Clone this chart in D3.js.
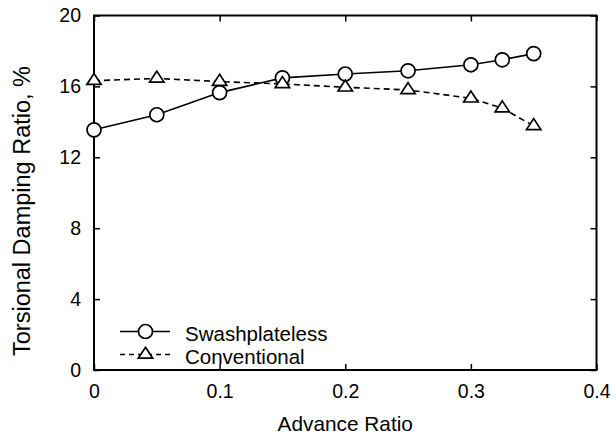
<!DOCTYPE html>
<html>
<head>
<meta charset="utf-8">
<script src="https://cdn.jsdelivr.net/npm/d3@7"></script>
<style>
  html, body { margin: 0; padding: 0; background: #fff; }
  svg { display: block; font-family: "Liberation Sans", Arial, sans-serif; }
</style>
</head>
<body>
<svg id="chart" width="616" height="437"></svg>
<script>
// Advance ratio stations
const advanceRatio = [0, 0.05, 0.1, 0.15, 0.2, 0.25, 0.3, 0.325, 0.35];
// Torsional damping ratio, %
const swashplateless = [13.55, 14.4, 15.65, 16.48, 16.7, 16.88, 17.22, 17.5, 17.85];
const conventional = [16.32, 16.45, 16.27, 16.14, 15.95, 15.8, 15.33, 14.77, 13.77];

const xTicks = [0, 0.1, 0.2, 0.3, 0.4];
const yTicks = [0, 4, 8, 12, 16, 20];
const seriesNames = ["Swashplateless", "Conventional"];

const svg = d3.select("#chart");
const plotL = 94, plotR = 596.5, plotT = 15.5, plotB = 370;

const x = d3.scaleLinear().domain([0, 0.4]).range([plotL, plotR]);
const y = d3.scaleLinear().domain([0, 20]).range([plotB, plotT]);

const tickLen = 6;
const fmtX = d => d === 0 ? "0" : d3.format(".1f")(d);

// Inward ticks on all four sides
const axes = svg.append("g");
axes.append("g").attr("transform", `translate(0,${plotB})`)
  .call(d3.axisBottom(x).tickValues(xTicks).tickSizeInner(-tickLen).tickSizeOuter(0).tickPadding(14).tickFormat(fmtX));
axes.append("g").attr("transform", `translate(0,${plotT})`)
  .call(d3.axisTop(x).tickValues(xTicks).tickSizeInner(-tickLen).tickSizeOuter(0).tickFormat(""));
axes.append("g").attr("transform", `translate(${plotL},0)`)
  .call(d3.axisLeft(y).tickValues(yTicks).tickSizeInner(-tickLen).tickSizeOuter(0).tickPadding(13));
axes.append("g").attr("transform", `translate(${plotR},0)`)
  .call(d3.axisRight(y).tickValues(yTicks).tickSizeInner(-tickLen).tickSizeOuter(0).tickFormat(""));

axes.selectAll(".domain").remove();
axes.selectAll(".tick line").attr("stroke", "#000").attr("stroke-width", 1.5);
axes.selectAll(".tick text").attr("fill", "#000").attr("font-size", 19.5)
  .attr("font-family", "Liberation Sans, Arial, sans-serif");

// Plot frame
svg.append("rect")
  .attr("x", plotL).attr("y", plotT)
  .attr("width", plotR - plotL).attr("height", plotB - plotT)
  .attr("fill", "none").attr("stroke", "#000").attr("stroke-width", 2);

// Axis titles
svg.append("text")
  .attr("x", (plotL + plotR) / 2).attr("y", 431)
  .attr("text-anchor", "middle").attr("font-size", 20.8)
  .text("Advance Ratio");
svg.append("text")
  .attr("transform", "translate(30,211) rotate(-90)")
  .attr("text-anchor", "middle").attr("font-size", 23.5)
  .text("Torsional Damping Ratio, %");

const line = d3.line().x(d => x(d[0])).y(d => y(d[1]));
const swData = advanceRatio.map((a, i) => [a, swashplateless[i]]);
const cvData = advanceRatio.map((a, i) => [a, conventional[i]]);
// Slightly flattened open triangle, centred on its centroid
const triPath = "M0,-7.3L7.2,3.7L-7.2,3.7Z";

const lineW = 1.6, markW = 1.7;

// Swashplateless: solid line with open circles
svg.append("path").datum(swData)
  .attr("d", line).attr("fill", "none").attr("stroke", "#000").attr("stroke-width", lineW);
svg.append("g").selectAll("circle").data(swData).join("circle")
  .attr("cx", d => x(d[0])).attr("cy", d => y(d[1])).attr("r", 7)
  .attr("fill", "#fff").attr("stroke", "#000").attr("stroke-width", markW);

// Conventional: dashed line with open triangles
svg.append("path").datum(cvData)
  .attr("d", line).attr("fill", "none").attr("stroke", "#000")
  .attr("stroke-width", lineW).attr("stroke-dasharray", "6,4");
svg.append("g").selectAll("path").data(cvData).join("path")
  .attr("d", triPath).attr("transform", d => `translate(${x(d[0])},${y(d[1])})`)
  .attr("fill", "#fff").attr("stroke", "#000").attr("stroke-width", markW)
  .attr("stroke-linejoin", "miter");

// Legend
const legend = svg.append("g");
const legY = [331.5, 354.5];
legend.append("line").attr("x1", 120).attr("x2", 170).attr("y1", legY[0]).attr("y2", legY[0])
  .attr("stroke", "#000").attr("stroke-width", lineW);
legend.append("circle").attr("cx", 145.5).attr("cy", legY[0]).attr("r", 7)
  .attr("fill", "#fff").attr("stroke", "#000").attr("stroke-width", markW);
legend.append("line").attr("x1", 120).attr("x2", 170).attr("y1", legY[1]).attr("y2", legY[1])
  .attr("stroke", "#000").attr("stroke-width", lineW).attr("stroke-dasharray", "5,4");
legend.append("path").attr("d", triPath).attr("transform", `translate(145.5,${legY[1]})`)
  .attr("fill", "#fff").attr("stroke", "#000").attr("stroke-width", markW);
legend.selectAll("text").data(seriesNames).join("text")
  .attr("x", 185).attr("y", (d, i) => legY[i] + 9)
  .attr("font-size", 20.5).text(d => d);
</script>
</body>
</html>
